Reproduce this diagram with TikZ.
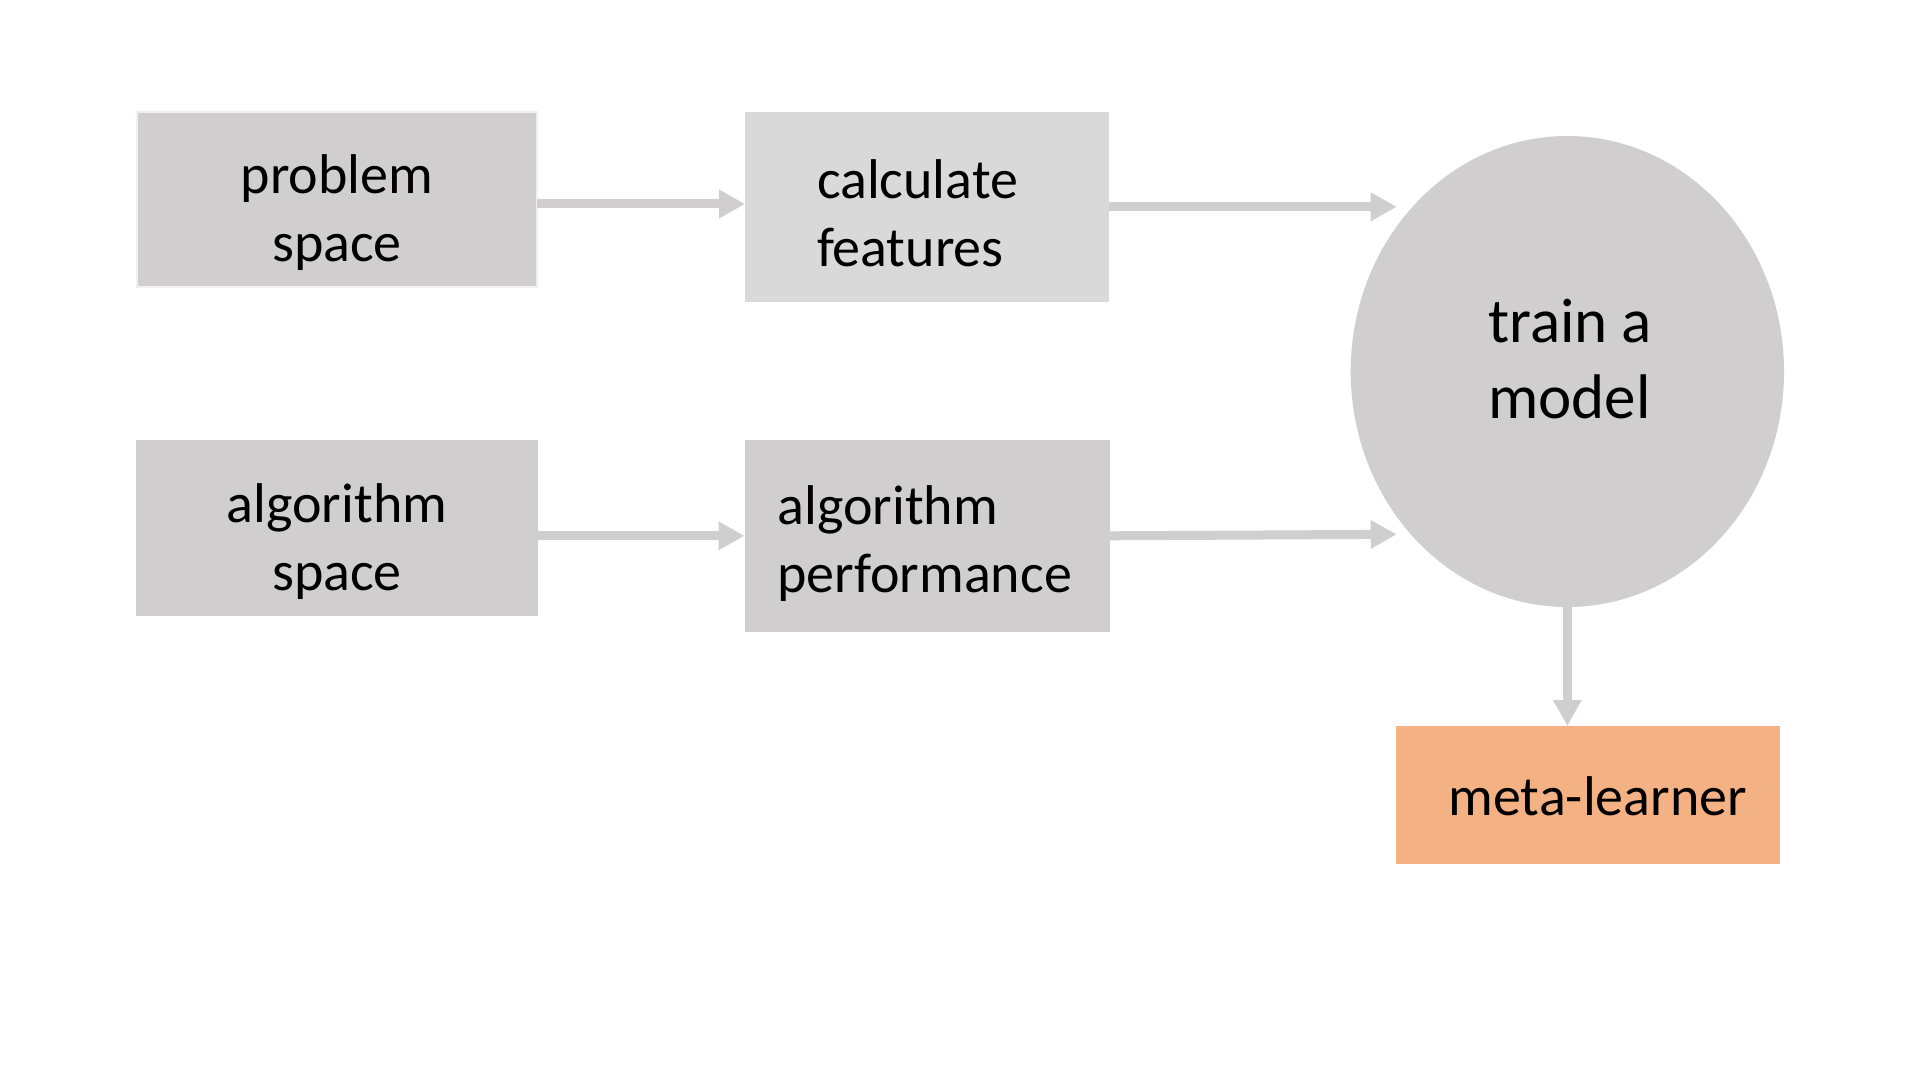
\documentclass[tikz,border=0pt]{standalone}
\usepackage{fontspec}
\setmainfont{Carlito}
\usetikzlibrary{arrows.meta,calc,shapes.geometric}
\definecolor{boxgray}{HTML}{D0CECE}
\definecolor{boxlight}{HTML}{D9D9D9}
\definecolor{boxedge}{HTML}{F0F0F0}
\definecolor{metaorange}{HTML}{F4B183}
\newcommand{\topA}{\rule{0pt}{24pt}}
\newcommand{\topB}{\rule{0pt}{27pt}}
\begin{document}
\begin{tikzpicture}[x=0.5pt,y=-0.5pt,
  boxnode/.style={rectangle, inner sep=0pt, outer sep=0pt, draw=none},
  txt/.style={inner sep=0pt, outer sep=0pt, font=\fontsize{28pt}{34pt}\selectfont, text=black},
  bigtxt/.style={inner sep=0pt, outer sep=0pt, font=\fontsize{31.5pt}{38pt}\selectfont, text=black},
  arr/.style={draw=boxgray, line width=4.5pt, -{Triangle[length=13pt,width=13.5pt]}}
]
\useasboundingbox[fill=white] (0,0) rectangle (1920,1080);

% shapes
\node[boxnode, fill=boxgray, draw=boxedge, line width=0.75pt, minimum width=200pt, minimum height=87.5pt] (ps) at (337,199.5) {};
\node[boxnode, fill=boxlight, minimum width=182pt, minimum height=94.85pt] (cf) at (927,206.85) {};
\node[boxnode, fill=boxgray, minimum width=200.75pt, minimum height=88.2pt] (as) at (336.75,527.8) {};
\node[boxnode, fill=boxgray, minimum width=182.5pt, minimum height=96.2pt] (pf) at (927,535.8) {};
\node[ellipse, fill=boxgray, inner sep=0pt, outer sep=0pt, minimum width=216.65pt, minimum height=235.5pt] (tm) at (1567.35,371.5) {};
\node[boxnode, fill=metaorange, minimum width=192pt, minimum height=69pt] (ml) at (1588,795) {};

% texts
\node[txt, anchor=north, align=center] (pst) at (337,146) {\topA problem\\space};
\node[txt, anchor=north west, align=left] (cft) at (817,150.5) {\topA calculate\\features};
\node[txt, anchor=north, align=center] (ast) at (337,474) {\topA algorithm\\space};
\node[txt, anchor=north west, align=left] (pft) at (777.5,476) {\topA algorithm\\performance};
\node[bigtxt, anchor=north west, align=left] (tmt) at (1488.2,288) {\topB train a\\model};
\node[txt, anchor=base west] (mlt) at (1448.6,815) {meta-learner};

% connectors
\draw[arr] ($(ps.east)+(0,4.5)$) -- ($(ps.east -| cf.west)+(0,4.5)$);
\draw[arr] (cf.east) -- ($(cf.east -| tm.west)+(46,0)$);
\draw[arr] (as.east |- pf.west) -- (pf.west);
\draw[arr] (pf.east) -- ($(pf.east -| tm.west)+(46,-1.5)$);
\draw[arr] (tm.south) -- (tm.south |- ml.north);
\end{tikzpicture}
\end{document}
